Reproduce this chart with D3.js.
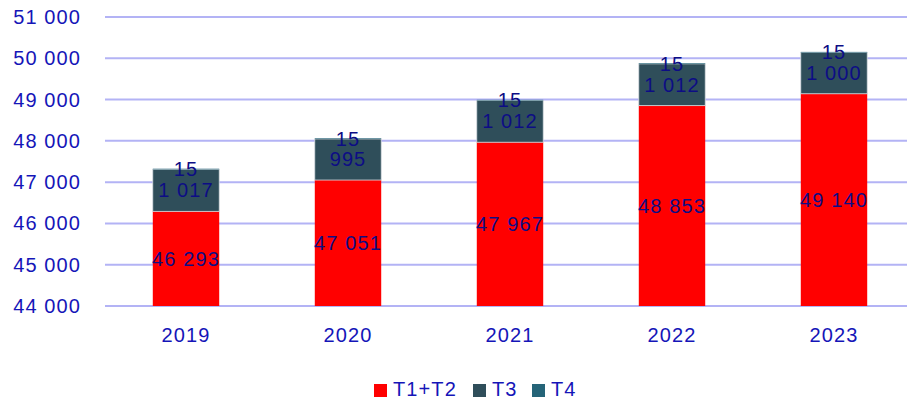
<!DOCTYPE html>
<html><head><meta charset="utf-8">
<script src="https://cdn.jsdelivr.net/npm/d3@7"></script>
<style>
html,body{margin:0;padding:0;background:#fff;}
svg{display:block;font-family:"Liberation Sans", Arial, sans-serif;}
</style></head>
<body><svg id="c" width="907" height="402"></svg>
<script>
const years = ["2019","2020","2021","2022","2023"];
const t12 = [46293, 47051, 47967, 48853, 49140];
const t3 = [1017, 995, 1012, 1012, 1000];
const t4 = [15, 15, 15, 15, 15];
const seriesNames = ["T1+T2","T3","T4"];
const seriesColors = ["#FF0000","#2F4E5A","#256478"];
const yTicks = [44000,45000,46000,47000,48000,49000,50000,51000];

const svg = d3.select("#c");
const loc = d3.formatLocale({decimal:",", thousands:"\u00a0", grouping:[3], currency:["",""]});
const fmt = loc.format(",d");
const LS = "1.1px";
const FS = 20;

const x = d3.scaleBand().domain(years).range([105,915]).paddingInner(0.59).paddingOuter(0.295);
const y = d3.scaleLinear().domain([44000,51000]).range([306,17]);
const yMin = y.domain()[0];

// gridlines
svg.append("g").selectAll("line").data(yTicks).join("line")
  .attr("x1",105).attr("x2",907)
  .attr("y1",d=>y(d)).attr("y2",d=>y(d))
  .attr("stroke","#B3B3F5").attr("stroke-width",2);

// y tick labels
svg.append("g").selectAll("text").data(yTicks).join("text")
  .attr("x",81).attr("y",d=>y(d)).attr("dy","0.35em")
  .attr("text-anchor","end").attr("font-size",FS).attr("letter-spacing",LS).attr("fill","#1515B8")
  .text(d=>fmt(d));

// stacked data
const data = years.map((yr,i)=>({year:yr, "T1+T2":t12[i], "T3":t3[i], "T4":t4[i]}));
const layers = d3.stack().keys(seriesNames)(data);

const g = svg.append("g");
layers.forEach((layer,li)=>{
  g.append("g").selectAll("rect").data(layer).join("rect")
    .attr("x",d=>x(d.data.year))
    .attr("width",x.bandwidth())
    .attr("y",d=>y(d[1]))
    .attr("height",d=>y(Math.max(d[0],yMin))-y(d[1]))
    .attr("fill",seriesColors[li])
    .attr("stroke", li===1 ? "#D5DCE0" : "none")
    .attr("stroke-width", 0.8);
});

// labels
layers.forEach((layer,li)=>{
  g.append("g").selectAll("text").data(layer).join("text")
    .attr("x",d=>x(d.data.year)+x.bandwidth()/2)
    .attr("y",d=>y((Math.max(d[0],yMin)+d[1])/2))
    .attr("dy","0.35em")
    .attr("text-anchor","middle").attr("font-size",FS).attr("letter-spacing",LS).attr("fill","#0D0D85")
    .text(d=>fmt(d[1]-d[0]));
});

// x labels
svg.append("g").selectAll("text").data(years).join("text")
  .attr("x",d=>x(d)+x.bandwidth()/2).attr("y",342)
  .attr("text-anchor","middle").attr("font-size",FS).attr("letter-spacing",LS).attr("fill","#1515B8")
  .text(d=>d);

// legend
const legX = [374, 473, 532];
const leg = svg.append("g");
seriesNames.forEach((n,i)=>{
  leg.append("rect").attr("x",legX[i]).attr("y",384).attr("width",13).attr("height",13).attr("fill",seriesColors[i]);
  leg.append("text").attr("x",legX[i]+19).attr("y",396)
    .attr("font-size",FS).attr("letter-spacing",LS).attr("fill","#1515B8").text(n);
});
</script></body></html>
